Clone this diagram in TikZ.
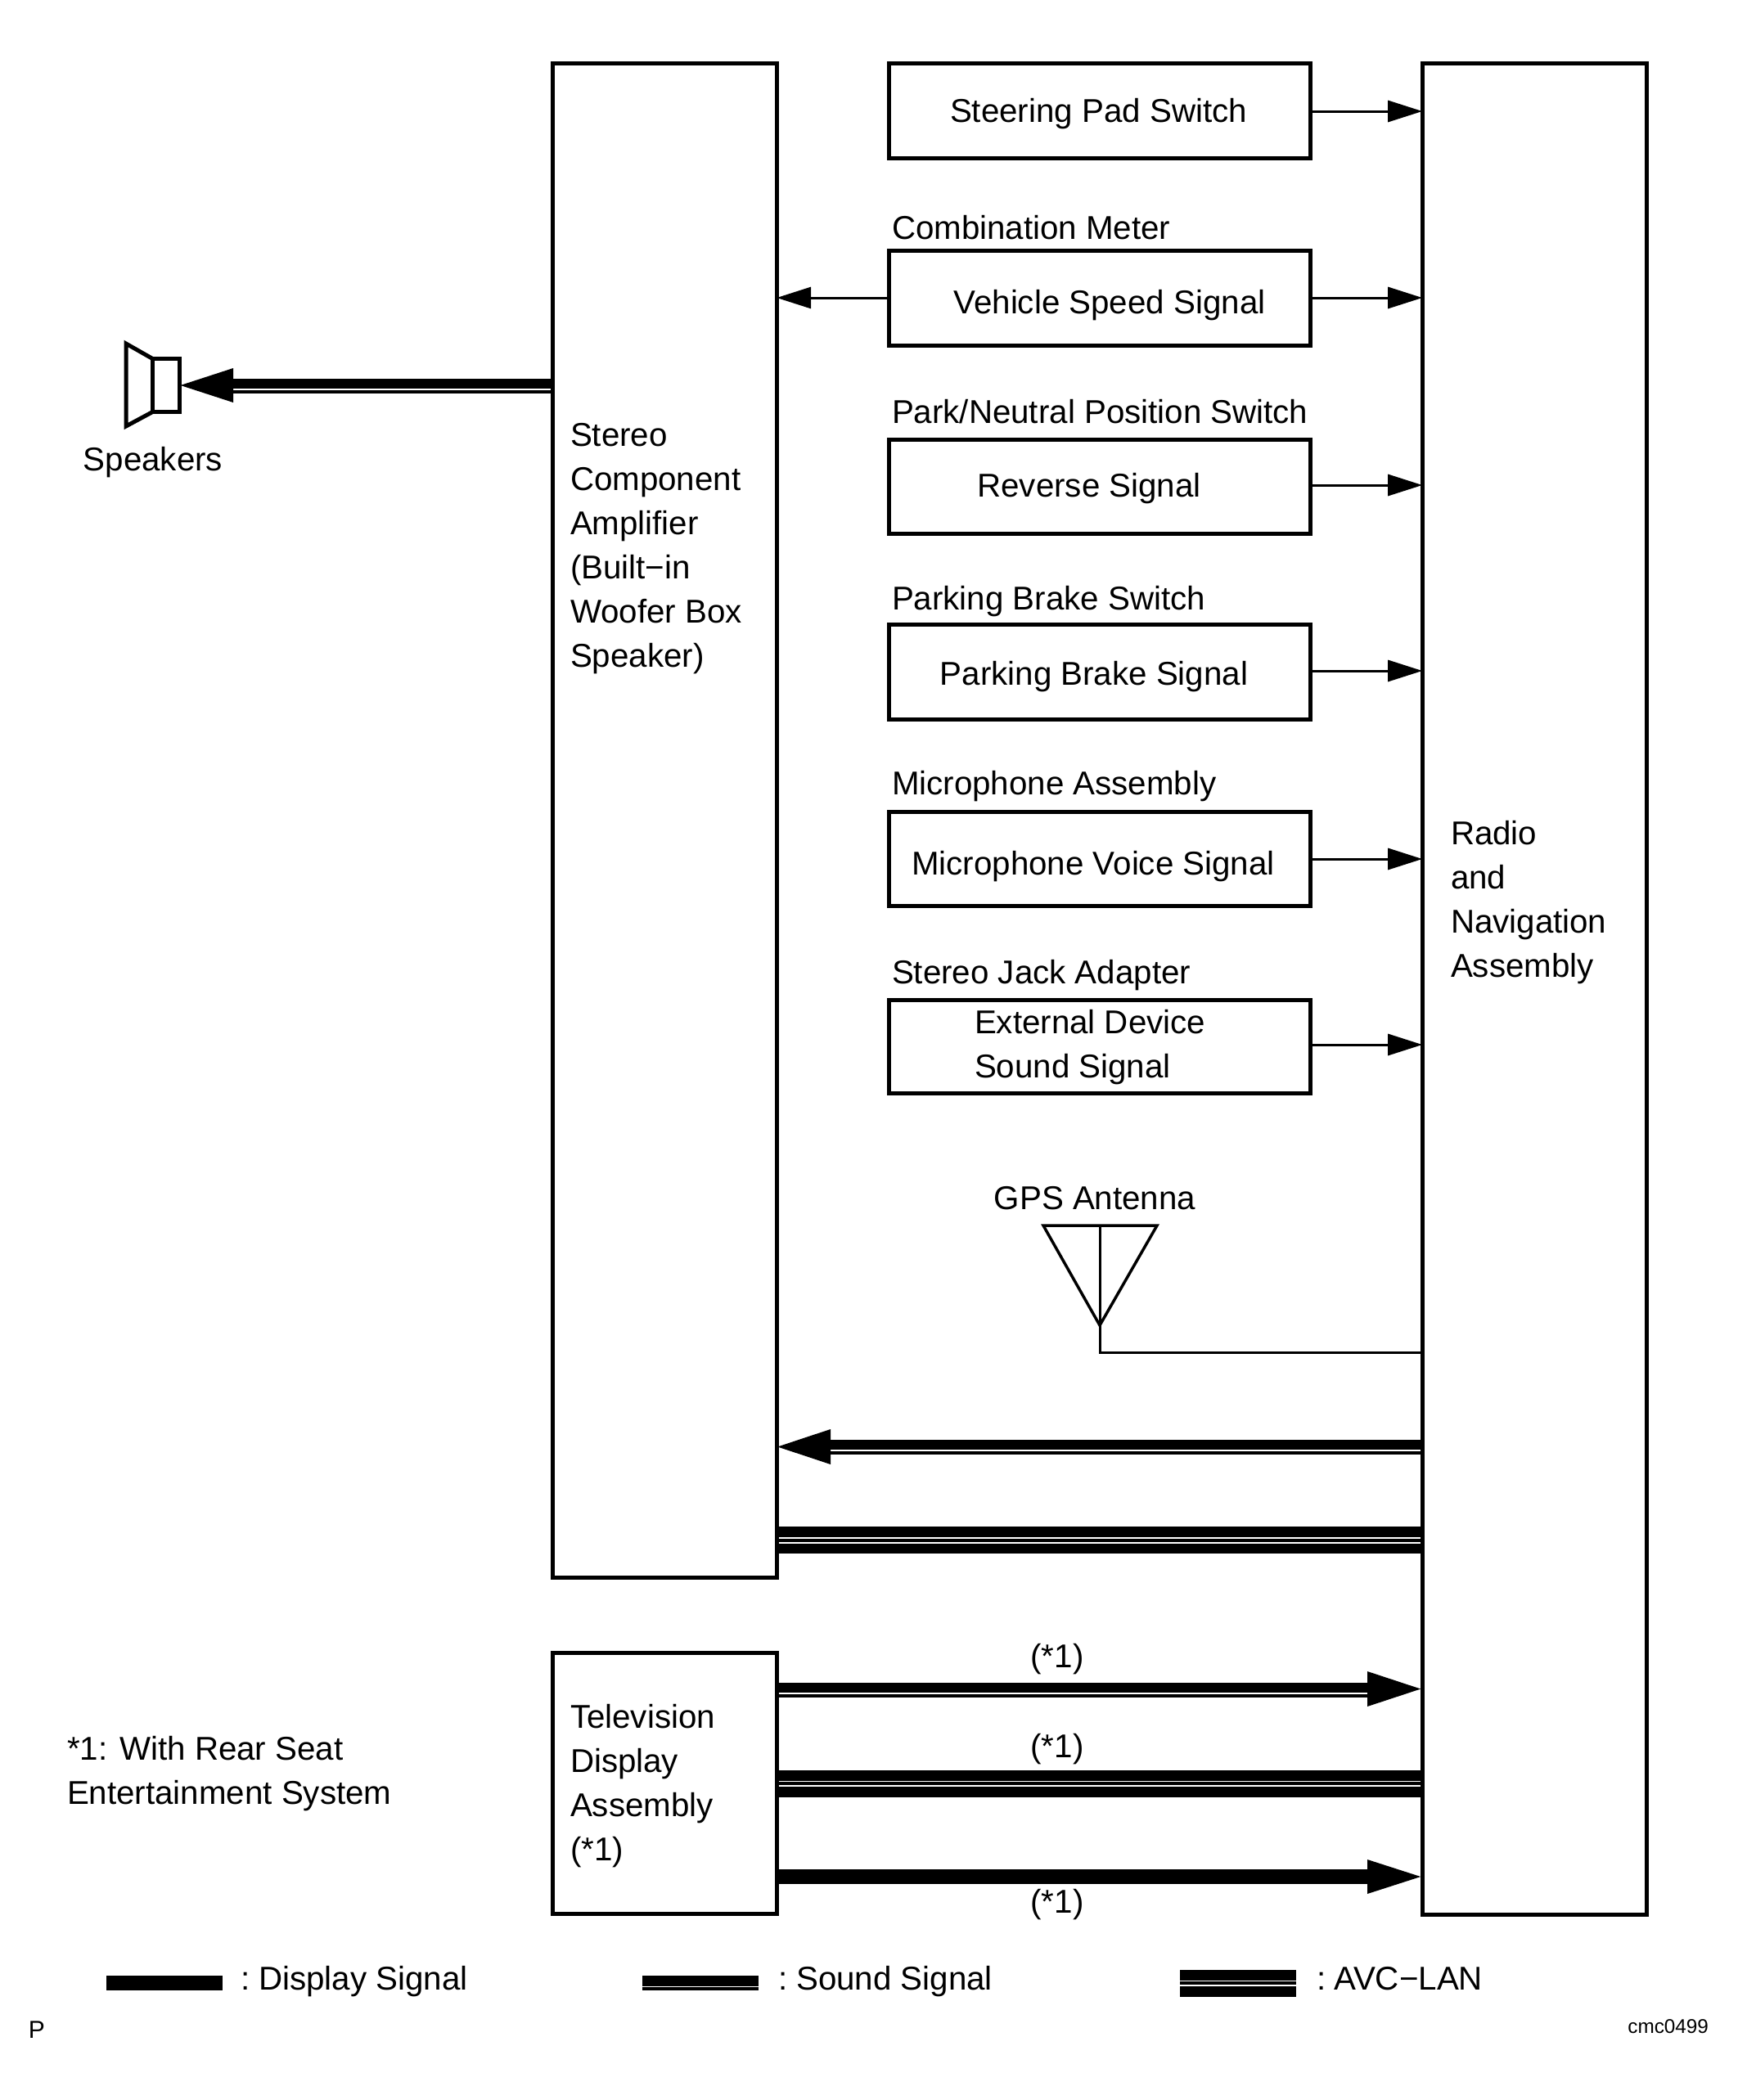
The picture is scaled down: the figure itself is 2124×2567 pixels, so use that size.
\documentclass[tikz,border=0pt]{standalone}
\usepackage{fontspec}
\setmainfont{Liberation Sans}
\usetikzlibrary{arrows.meta}
\tikzset{
  box/.style={draw=black,line width=5pt,rectangle,inner sep=0pt,outer sep=0pt,fill=white},
  sbox/.style={box,minimum width=515pt},
  lbl/.style={font=\fontsize{40.3pt}{54pt}\selectfont,inner sep=0pt,outer sep=0pt,align=left,text=black},
  lw/.style={lbl,anchor=west},
  thin arrow/.style={line width=3pt,-{Triangle[length=42pt,width=26pt]}},
  thin conn/.style={line width=3pt},
  bandA/.style={line width=12.5pt},
  bandB/.style={line width=4pt},
  bandD/.style={line width=17.5pt},
  headfill/.style={fill=black},
}
\begin{document}
\begin{tikzpicture}[x=1pt,y=-1pt]
\useasboundingbox (0,0) rectangle (2124,2567);
% main blocks
\node[box,minimum width=274pt,minimum height=1851pt] (amp) at (812.2,1002.5) {};
\node[box,minimum width=274pt,minimum height=2263pt] (nav) at (1875.2,1208.5) {};
\node[box,minimum width=274pt,minimum height=319pt] (tv) at (812.2,2179.5) {};
% signal boxes
\node[sbox,minimum height=116pt] (steer) at (1343.7,135) {};
\node[sbox,minimum height=116pt] (speed) at (1343.7,364) {};
\node[sbox,minimum height=115pt] (rev) at (1343.7,594.5) {};
\node[sbox,minimum height=116pt] (brake) at (1343.7,821) {};
\node[sbox,minimum height=115pt] (mic) at (1343.7,1049.5) {};
\node[sbox,minimum height=114pt] (ext) at (1343.7,1279) {};
% box texts
\node[lbl] (tsteer) at (1342.5,139) {Steering Pad Switch};
\node[lbl] (tspeed) at (1356,373) {Vehicle Speed Signal};
\node[lbl] (trev) at (1331,597) {Reverse Signal};
\node[lbl] (tbrake) at (1337,827) {Parking Brake Signal};
\node[lbl] (tmic) at (1336,1059) {Microphone Voice Signal};
\node[lw] (text) at (1191,1280) {External Device\\Sound Signal};
\node[lw] (tcomb) at (1090,278) {Combination Meter};
\node[lw] (tpark) at (1090,503) {Park/Neutral Position Switch};
\node[lw] (tpb) at (1090,735) {Parking Brake Switch};
\node[lw] (tma) at (1090,961) {Microphone Assembly};
\node[lw] (tsj) at (1090,1192) {Stereo Jack Adapter};
\node[lw] (tamp) at (697,671) {Stereo\\Component\\Amplifier\\(Built−in\\Woofer Box\\Speaker)};
\node[lw] (tnav) at (1773,1103) {Radio\\and\\Navigation\\Assembly};
\node[lw] (ttv) at (697,2183) {Television\\Display\\Assembly\\(*1)};
\node[lw] (tnote) at (82,2168) {*1: With Rear Seat\\Entertainment System};
% thin signal arrows
\draw[thin arrow] (steer.east |- 0,136) -- (nav.west |- 0,136);
\draw[thin arrow] (speed.east |- 0,364) -- (nav.west |- 0,364);
\draw[thin arrow] (speed.west |- 0,364) -- (amp.east |- 0,364);
\draw[thin arrow] (rev.east |- 0,593) -- (nav.west |- 0,593);
\draw[thin arrow] (brake.east |- 0,820) -- (nav.west |- 0,820);
\draw[thin arrow] (mic.east |- 0,1050) -- (nav.west |- 0,1050);
\draw[thin arrow] (ext.east |- 0,1277) -- (nav.west |- 0,1277);
% GPS antenna
\node[lbl] (tgps) at (1338,1465) {GPS Antenna};
\coordinate (gl) at (1275,1498);
\coordinate (gr) at (1414,1498);
\coordinate (gm) at (1344,1498);
\coordinate (ga) at (1344,1620);
\draw[line width=3.5pt,line join=miter] (gl) -- (gr) -- (ga) -- cycle;
\draw[thin conn] (gm) -- (ga) |- (nav.west |- 0,1653);
% speakers
\node[draw=black,line width=5pt,rectangle,inner sep=0pt,outer sep=0pt,minimum width=33pt,minimum height=65pt] (spk) at (203,471) {};
\draw[line width=5pt,line join=miter] (spk.north west) -- (154,420) -- (154,521) -- (spk.south west);
\node[lbl] (tspk) at (187,565) {Speakers};
\draw[bandA] (amp.west |- 0,469) -- (284,469);
\draw[bandB] (amp.west |- 0,478.5) -- (284,478.5);
\fill[headfill] (spk.east |- 0,471) ++(1,0) -- (285,450) -- (285,492) -- cycle;
% amp <- nav sound
\draw[bandA] (nav.west |- 0,1766) -- (1014,1766);
\draw[bandB] (nav.west |- 0,1776) -- (1014,1776);
\fill[headfill] (amp.east |- 0,1768.5) ++(1,0) -- (1015,1747) -- (1015,1790) -- cycle;
% amp - nav AVC
\draw[bandA] (amp.east |- 0,1872.5) -- (nav.west |- 0,1872.5);
\draw[bandB] (amp.east |- 0,1883) -- (nav.west |- 0,1883);
\draw[bandA] (amp.east |- 0,1893) -- (nav.west |- 0,1893);
% tv -> nav
\draw[bandA] (tv.east |- 0,2063) -- (1672,2063);
\draw[bandB] (tv.east |- 0,2072.7) -- (1672,2072.7);
\fill[headfill] (nav.west |- 0,2064.5) ++(-2,0) -- (1671,2043) -- (1671,2086) -- cycle;
\draw[bandA] (tv.east |- 0,2170.3) -- (nav.west |- 0,2170.3);
\draw[bandB] (tv.east |- 0,2180) -- (nav.west |- 0,2180);
\draw[bandA] (tv.east |- 0,2190.3) -- (nav.west |- 0,2190.3);
\draw[bandD] (tv.east |- 0,2294) -- (1672,2294);
\fill[headfill] (nav.west |- 0,2294) ++(-2,0) -- (1671,2273) -- (1671,2315) -- cycle;
\node[lbl] (s1) at (1292,2028) {(*1)};
\node[lbl] (s2) at (1292,2138) {(*1)};
\node[lbl] (s3) at (1292,2328) {(*1)};
% legend
\fill (130,2415) rectangle (272,2433);
\node[lbl,anchor=base west] (ld) at (294,2432) {:\hspace{11pt}Display Signal};
\fill (785,2415) rectangle (927,2427.7);
\fill (785,2429.3) rectangle (927,2433);
\node[lbl,anchor=base west] (ls) at (951,2432) {:\hspace{11pt}Sound Signal};
\fill (1442,2408) rectangle (1584,2420.7);
\fill (1442,2422) rectangle (1584,2425.7);
\fill (1442,2428) rectangle (1584,2441);
\node[lbl,anchor=base west] (la) at (1609,2432) {:\hspace{10pt}AVC−LAN};
% corner marks
\node[lbl,font=\fontsize{30pt}{32pt}\selectfont] (p) at (45,2481) {P};
\node[lbl,font=\fontsize{24.3pt}{30pt}\selectfont,anchor=east] (code) at (2088,2477) {cmc0499};
\end{tikzpicture}
\end{document}
